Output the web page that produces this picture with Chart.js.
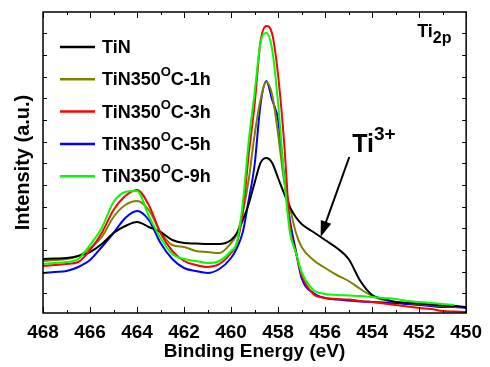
<!DOCTYPE html>
<html>
<head>
<meta charset="utf-8">
<script src="https://cdn.jsdelivr.net/npm/chart.js@4.4.0/dist/chart.umd.min.js"></script>
<style>
    html, body { margin: 0; padding: 0; background: #fff; }
    #wrap { width: 490px; height: 367px; }
</style>
</head>
<body>
<div id="wrap"><canvas id="xpsChart" width="490" height="367"></canvas></div>
<script>
// Binding energy (eV) shared by every series
var energies = [468, 467.5, 467, 466.5, 466, 465.5, 465, 464.5, 464, 463.5, 463, 462.5, 462, 461.5, 461, 460.5, 460,
    459.75, 459.5, 459.25, 459, 458.75, 458.5, 458.25, 458, 457.75, 457.5, 457.25, 457,
    456.5, 456, 455.5, 455, 454.5, 454, 453.5, 453, 452.5, 452, 451.5, 451, 450.5, 450];

// intensity (a.u.)
var tin = [54, 54.5, 55, 57, 61, 69, 80, 87, 91, 86, 81, 73, 70, 69.5, 69, 69, 73,
    80, 93, 109, 130, 150, 155, 150, 135, 120, 106, 96, 89,
    81, 73, 65, 54, 32, 18, 14, 11, 10, 9.5, 8.5, 7.5, 7, 6];
var tin1h = [52, 53, 54, 57, 65, 76, 96, 108, 112, 103, 81, 68, 66, 62, 61, 60, 70,
    79, 101, 133, 178, 213, 231, 218, 179, 133, 106, 81, 66,
    53, 45, 38, 32, 24, 17, 13, 11, 10, 9, 8, 7, 6.5, 6];
var tin3h = [47, 48, 49, 51, 63, 80, 103, 117, 123, 108, 80, 62, 52, 48, 46, 49, 60,
    70, 101, 158, 208, 271, 287, 279, 238, 173, 88, 61, 38,
    19, 15, 14, 13.5, 12, 11, 9.5, 8, 6.5, 5, 4, 2, 1.5, 1];
var tin5h = [40, 41, 42, 46, 53, 66, 80, 95, 102, 93, 70, 54, 45, 42, 40, 44, 55,
    65, 81, 113, 148, 208, 232, 213, 193, 138, 93, 63, 35,
    20, 15, 13.5, 12.5, 11.5, 11, 10.5, 10, 9, 8, 7, 6, 6, 5];
var tin9h = [49, 50, 51, 54, 68, 85, 111, 121, 122, 97, 75, 59, 54, 52, 50, 52, 62,
    71, 110, 172, 220, 270, 280, 263, 210, 138, 81, 61, 41,
    23, 19, 18, 17.5, 17, 16, 15, 14, 12, 11, 10, 9, 8, null];

var seriesLabels = ['TiN', 'TiN350^{O}C-1h', 'TiN350^{O}C-3h', 'TiN350^{O}C-5h', 'TiN350^{O}C-9h'];
var seriesColors = ['#000000', '#808000', '#ff0000', '#0000ff', '#00ff00'];
var xTickLabels = [468, 466, 464, 462, 460, 458, 456, 454, 452, 450];

var FONT = '"Liberation Sans", Arial, sans-serif';

function toPoints(values) {
    var pts = [];
    values.forEach(function (v, i) {
        if (v !== null) pts.push({ x: energies[i], y: v });
    });
    return pts;
}

// draws text like "TiN350^{O}C-1h" / "Ti_{2p}" with super/subscripts
function drawRich(ctx, text, x, y, size, subSize, supRise) {
    var parts = text.split(/(\^\{[^}]*\}|_\{[^}]*\})/);
    parts.forEach(function (p) {
        if (!p) return;
        var s = size, dy = 0, t = p;
        if (p[0] === '^') { t = p.slice(2, -1); s = subSize || Math.round(size * 0.72); dy = -size * (supRise || 0.42); }
        else if (p[0] === '_') { t = p.slice(2, -1); s = subSize || Math.round(size * 0.9); dy = size * 0.32; }
        ctx.font = 'bold ' + s + 'px ' + FONT;
        ctx.fillText(t, x, y + dy);
        x += ctx.measureText(t).width;
    });
}

var framePlugin = {
    id: 'frame',
    afterDraw: function (chart) {
        var ctx = chart.ctx, a = chart.chartArea;
        var xs = chart.scales.x, ys = chart.scales.y;
        ctx.save();
        ctx.strokeStyle = '#000';
        ctx.lineWidth = 1.5;
        ctx.strokeRect(a.left, a.top, a.right - a.left, a.bottom - a.top);
        ctx.lineWidth = 1;
        ctx.beginPath();
        for (var e = 450; e <= 468; e++) {
            var px = Math.round(xs.getPixelForValue(e)) + 0.5;
            var len = e % 2 === 0 ? 6 : 3;
            ctx.moveTo(px, a.bottom); ctx.lineTo(px, a.bottom - len);
            ctx.moveTo(px, a.top); ctx.lineTo(px, a.top + len);
        }
        for (var v = 19.7; v < 301; v += 21.67) {
            var py = Math.round(ys.getPixelForValue(v)) + 0.5;
            ctx.moveTo(a.left, py); ctx.lineTo(a.left + 4, py);
            ctx.moveTo(a.right, py); ctx.lineTo(a.right - 4, py);
        }
        ctx.stroke();

        // legend
        ctx.fillStyle = '#000';
        ctx.textBaseline = 'middle';
        ctx.textAlign = 'left';
        seriesLabels.forEach(function (lab, i) {
            var ly = a.top + 35 + i * 32.3;
            ctx.strokeStyle = seriesColors[i];
            ctx.lineWidth = 2.5;
            ctx.beginPath();
            ctx.moveTo(a.left + 17, ly);
            ctx.lineTo(a.left + 52, ly);
            ctx.stroke();
            drawRich(ctx, lab, a.left + 59, ly + 1, 18);
        });

        // Ti2p label
        ctx.textBaseline = 'alphabetic';
        drawRich(ctx, 'Ti_{2p}', a.right - 49, a.top + 25, 18, 16);

        // Ti3+ arrow
        var x0 = xs.getPixelForValue(454.97), y0 = ys.getPixelForValue(156);
        var x1 = xs.getPixelForValue(456.19), y1 = ys.getPixelForValue(76);
        var ang = Math.atan2(y1 - y0, x1 - x0);
        ctx.strokeStyle = '#000';
        ctx.lineWidth = 2;
        ctx.beginPath();
        ctx.moveTo(x0, y0);
        ctx.lineTo(x1 - Math.cos(ang) * 12, y1 - Math.sin(ang) * 12);
        ctx.stroke();
        ctx.beginPath();
        ctx.moveTo(x1, y1);
        ctx.lineTo(x1 - Math.cos(ang) * 16 + Math.sin(ang) * 5.5, y1 - Math.sin(ang) * 16 - Math.cos(ang) * 5.5);
        ctx.lineTo(x1 - Math.cos(ang) * 16 - Math.sin(ang) * 5.5, y1 - Math.sin(ang) * 16 + Math.cos(ang) * 5.5);
        ctx.closePath();
        ctx.fillStyle = '#000';
        ctx.fill();
        drawRich(ctx, 'Ti^{3+}', xs.getPixelForValue(454.85), ys.getPixelForValue(161), 25, 19, 0.5);
        ctx.restore();
    }
};

var drawOrder = [3, 4, 2, 5, 1];
var ctx = document.getElementById('xpsChart').getContext('2d');
var _chart = new Chart(ctx, {
    type: 'line',
    data: {
        datasets: [tin, tin1h, tin3h, tin5h, tin9h].map(function (vals, i) {
            return {
                label: seriesLabels[i].replace('^{O}', 'O'),
                data: toPoints(vals),
                borderColor: seriesColors[i],
                backgroundColor: seriesColors[i],
                borderWidth: 2,
                pointRadius: 0,
                fill: false,
                cubicInterpolationMode: 'monotone',
                order: drawOrder[i]
            };
        })
    },
    options: {
        responsive: false,
        animation: false,
        devicePixelRatio: 1,
        layout: { padding: { top: 12, right: 20, left: 0, bottom: 0 } },
        plugins: { legend: { display: false }, tooltip: { enabled: false } },
        scales: {
            x: {
                type: 'linear',
                reverse: true,
                min: 450,
                max: 468,
                afterBuildTicks: function (scale) {
                    scale.ticks = xTickLabels.map(function (v) { return { value: v }; });
                },
                afterFit: function (scale) { scale.height = 54; },
                grid: { display: false, drawTicks: false },
                border: { display: false },
                ticks: {
                    color: '#000',
                    padding: 8,
                    maxRotation: 0,
                    font: { family: FONT, size: 19, weight: 'bold' }
                },
                title: {
                    display: true,
                    text: 'Binding Energy (eV)',
                    color: '#000',
                    padding: { top: 0, bottom: 4 },
                    font: { family: FONT, size: 19, weight: 'bold' }
                }
            },
            y: {
                min: 0,
                max: 301,
                afterFit: function (scale) { scale.width = 43; },
                grid: { display: false, drawTicks: false },
                border: { display: false },
                ticks: { display: false },
                title: {
                    display: true,
                    text: 'Intensity (a.u.)',
                    color: '#000',
                    padding: { top: 11, bottom: 0 },
                    font: { family: FONT, size: 20, weight: 'bold' }
                }
            }
        }
    },
    plugins: [framePlugin]
});
</script>
</body>
</html>
